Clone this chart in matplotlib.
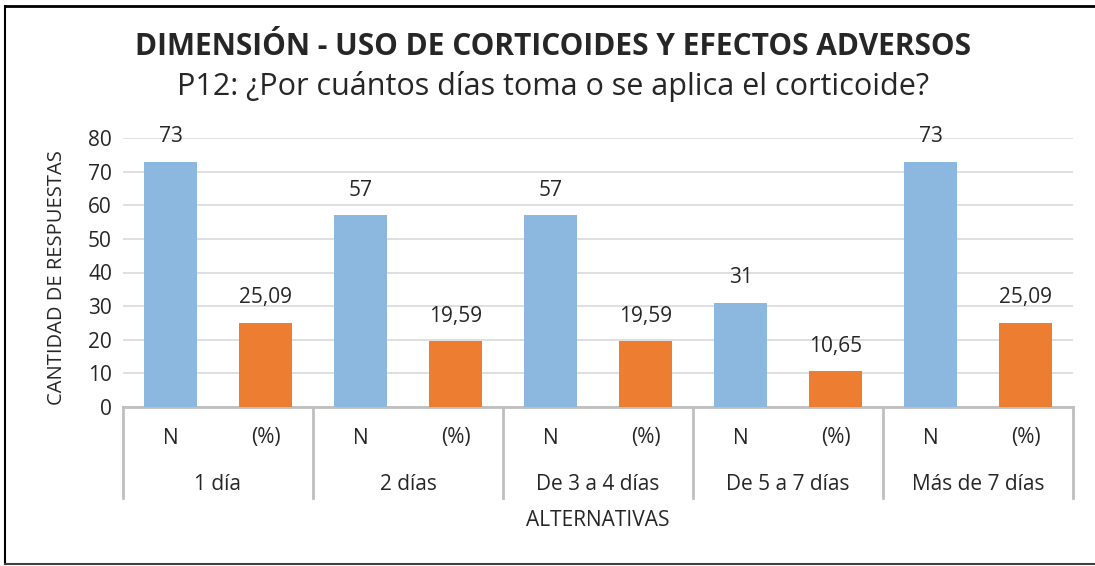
import numpy as np
import matplotlib.pyplot as plt
from matplotlib.lines import Line2D

plt.rcParams['font.family'] = ['Open Sans', 'DejaVu Sans']

categories = ['1 día', '2 días', 'De 3 a 4 días', 'De 5 a 7 días', 'Más de 7 días']
sub_labels = ['N', '(%)']
n_values = [73, 57, 57, 31, 73]
pct_values = [25.09, 19.59, 19.59, 10.65, 25.09]

blue = '#8cb8e0'
orange = '#ed7d31'
grid_c = '#d9d9d9'
axis_c = '#bfbfbf'
txt_c = '#262626'

fig = plt.figure(figsize=(10.95, 5.66), dpi=100)
W, H = 1095, 566
ax = fig.add_axes([123 / W, 1 - 407 / H, 950 / W, 269 / H])

x_n = np.arange(len(categories)) * 2 + 0.5
x_p = x_n + 1
ax.bar(x_n, n_values, width=0.55, color=blue, zorder=3)
ax.bar(x_p, pct_values, width=0.55, color=orange, zorder=3)

for x, v in zip(x_n, n_values):
    ax.text(x, v + 4.3, f'{v}', ha='center', va='bottom', fontsize=15, color=txt_c)
for x, v in zip(x_p, pct_values):
    ax.text(x, v + 4.3, f'{v:.2f}'.replace('.', ','), ha='center', va='bottom', fontsize=15, color=txt_c)

ax.set_xlim(0, 2 * len(categories))
ax.set_ylim(0, 80)
ax.set_yticks(range(0, 81, 10))
ax.yaxis.grid(True, color=grid_c, linewidth=1.2, zorder=0)
ax.set_axisbelow(True)
ax.tick_params(axis='y', length=0, labelsize=15, labelcolor=txt_c, pad=8)
ax.set_xticks([])
for s in ['left', 'right', 'top']:
    ax.spines[s].set_visible(False)
ax.spines['bottom'].set_color(axis_c)
ax.spines['bottom'].set_linewidth(2)

# multi-level category axis
tr = ax.get_xaxis_transform()
depth = -(498 - 407) / 269
for k in range(len(categories) + 1):
    ax.add_line(Line2D([2 * k, 2 * k], [0, depth], transform=tr, color=axis_c,
                       linewidth=2, clip_on=False))
for i, cat in enumerate(categories):
    for j, lab in enumerate(sub_labels):
        ax.text(2 * i + j + 0.5, -(438 - 407) / 269, lab, transform=tr, ha='center',
                va='center', fontsize=15, color=txt_c)
    ax.text(2 * i + 1, -(484 - 407) / 269, cat, transform=tr, ha='center',
            va='center', fontsize=15, color=txt_c)

fig.text(598 / W, 1 - 520 / H, 'ALTERNATIVAS', ha='center', va='center', fontsize=15, color=txt_c)
fig.text(57 / W, 1 - 278 / H, 'CANTIDAD DE RESPUESTAS', ha='center', va='center',
         rotation=90, fontsize=14.5, color=txt_c)

fig.text(553 / W, 1 - 47 / H, 'DIMENSIÓN - USO DE CORTICOIDES Y EFECTOS ADVERSOS',
         ha='center', va='center', fontsize=21.5, fontweight='bold', color=txt_c)
fig.text(553 / W, 1 - 87 / H, 'P12: ¿Por cuántos días toma o se aplica el corticoide?',
         ha='center', va='center', fontsize=22, color=txt_c)

# outer frame (left, top, bottom)
fig.add_artist(Line2D([5 / W, 5 / W], [1 - 6 / H, 1 - 564 / H], color='black', linewidth=1.5))
fig.add_artist(Line2D([5 / W, 1], [1 - 6 / H, 1 - 6 / H], color='black', linewidth=2))
fig.add_artist(Line2D([5 / W, 1], [1 - 564 / H, 1 - 564 / H], color='#404040', linewidth=1.5))

fig.savefig('out.png', dpi=100)
